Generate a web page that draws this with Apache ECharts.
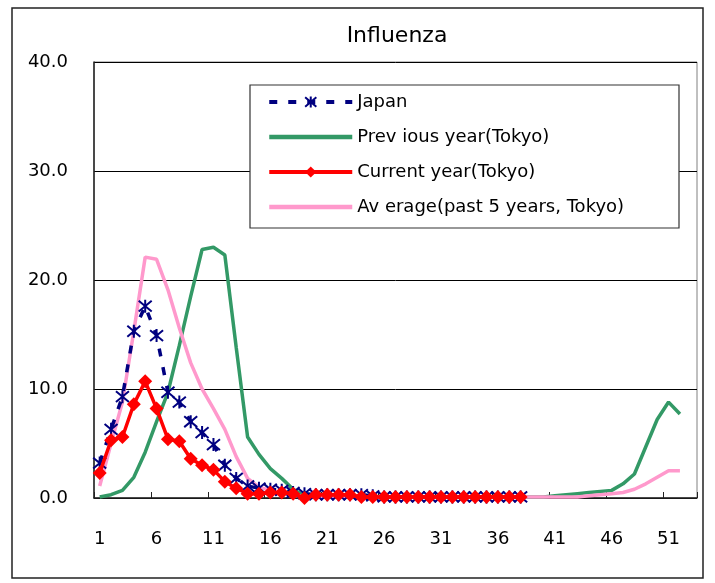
<!DOCTYPE html>
<html>
<head>
<meta charset="utf-8">
<script src="https://cdn.jsdelivr.net/npm/echarts@6/dist/echarts.min.js"></script>
<style>
html,body{margin:0;padding:0;background:#fff;}
#chart{width:715px;height:583px;}
</style>
</head>
<body>
<div id="chart"></div>
<script>
var weeks = [];
for (var w = 1; w <= 53; w++) weeks.push(String(w));

var titleText = 'Influenza';
var seriesNames = ['Japan', 'Prev ious year(Tokyo)', 'Current year(Tokyo)', 'Av erage(past 5 years, Tokyo)'];
var yTicks = [0, 10, 20, 30, 40];

var japan = [3.2, 6.3, 9.3, 15.3, 17.6, 14.9, 9.7, 8.8, 7.0, 6.0,
  4.9, 3.0, 1.8, 1.1, 0.9, 0.8, 0.7, 0.5, 0.4, 0.3,
  0.3, 0.3, 0.3, 0.3, 0.2, 0.1, 0.1, 0.1, 0.1, 0.1,
  0.1, 0.1, 0.1, 0.1, 0.1, 0.1, 0.1, 0.1];

var previousYear = [0.1, 0.3, 0.7, 1.9, 4.2, 7.0, 9.7, 14.0, 18.5, 22.8,
  23.0, 22.3, 13.8, 5.6, 4.0, 2.7, 1.8, 0.8, 0.2, 0.1,
  0.1, 0.1, 0.1, 0.1, 0.1, 0.1, 0.1, 0.1, 0.1, 0.1,
  0.1, 0.1, 0.1, 0.1, 0.1, 0.1, 0.1, 0.1, 0.1, 0.1,
  0.2, 0.3, 0.4, 0.5, 0.6, 0.7, 1.3, 2.2, 4.7, 7.2,
  8.8, 7.7];

var currentYear = [2.3, 5.3, 5.6, 8.6, 10.7, 8.2, 5.4, 5.2, 3.6, 3.0,
  2.6, 1.5, 0.9, 0.4, 0.4, 0.5, 0.5, 0.4, 0.0, 0.3,
  0.3, 0.3, 0.3, 0.1, 0.1, 0.1, 0.1, 0.1, 0.1, 0.1,
  0.1, 0.1, 0.1, 0.1, 0.1, 0.1, 0.1, 0.1];

var average5 = [1.1, 5.0, 8.8, 15.3, 22.1, 21.9, 19.1, 15.6, 12.4, 10.0,
  8.2, 6.3, 3.8, 1.8, 1.0, 0.7, 0.5, 0.3, 0.1, 0.1,
  0.1, 0.1, 0.1, 0.1, 0.1, 0.1, 0.1, 0.1, 0.1, 0.1,
  0.1, 0.1, 0.1, 0.1, 0.1, 0.1, 0.1, 0.1, 0.1, 0.1,
  0.1, 0.1, 0.1, 0.2, 0.3, 0.4, 0.5, 0.8, 1.3, 1.9,
  2.5, 2.5];

var FONT = 'DejaVu Sans';
var chart = echarts.init(document.getElementById('chart'), null, {renderer: 'canvas'});
var starPath = 'path://M0,0 L10,10 M10,0 L0,10 M5,-1 L5,11';

chart.setOption({
  backgroundColor: '#ffffff',
  animation: false,
  title: {
    text: titleText,
    left: 392,
    top: 20,
    textAlign: 'center',
    textStyle: {fontFamily: FONT, fontSize: 22, fontWeight: 'normal', color: '#000'}
  },
  graphic: [
    {type: 'rect', z: 0, shape: {x: 12, y: 8, width: 691, height: 570},
     style: {fill: 'none', stroke: '#222', lineWidth: 1.5}},
    {type: 'rect', z: 50, shape: {x: 250, y: 85, width: 429, height: 143},
     style: {fill: '#fff', stroke: '#333', lineWidth: 1.2}}
  ],
  legend: {
    z: 60,
    left: 267,
    top: 92,
    orient: 'vertical',
    padding: 0,
    itemWidth: 83,
    itemHeight: 14,
    itemGap: 15,
    textStyle: {fontFamily: FONT, fontSize: 18, color: '#000', lineHeight: 20},
    data: [
      {name: seriesNames[0], lineStyle: {width: 4}},
      {name: seriesNames[1], itemStyle: {opacity: 0}, lineStyle: {width: 4.5}},
      {name: seriesNames[2], lineStyle: {width: 4}},
      {name: seriesNames[3], itemStyle: {opacity: 0}, lineStyle: {width: 4.5}}
    ]
  },
  grid: {left: 94, right: 18, top: 62, bottom: 85, show: true, borderColor: '#808080', borderWidth: 1},
  xAxis: {
    type: 'category',
    data: weeks,
    boundaryGap: true,
    axisLine: {lineStyle: {color: '#222', width: 1.5}},
    axisTick: {show: true, inside: true, length: 6, interval: 4, lineStyle: {color: '#222'}},
    axisLabel: {interval: 4, margin: 32, fontFamily: FONT, fontSize: 18, color: '#000'},
    splitLine: {show: false}
  },
  yAxis: {
    type: 'value',
    min: yTicks[0],
    max: yTicks[yTicks.length - 1],
    interval: 10,
    axisLine: {show: true, lineStyle: {color: '#222', width: 1.5}},
    axisTick: {show: false},
    axisLabel: {margin: 26, fontFamily: FONT, fontSize: 18, color: '#000',
      formatter: function (v) { return v.toFixed(1); }},
    splitLine: {show: true, lineStyle: {color: '#000', width: 1}}
  },
  series: [
    {
      name: seriesNames[0], type: 'line', data: japan, z: 5,
      symbol: starPath, symbolSize: 13, showAllSymbol: true,
      lineStyle: {color: '#000080', width: 3.5, type: [8, 11]},
      itemStyle: {color: 'none', borderColor: '#000080', borderWidth: 2}
    },
    {
      name: seriesNames[1], type: 'line', data: previousYear, z: 3,
      symbol: 'none', showSymbol: false,
      lineStyle: {color: '#339966', width: 3.5},
      itemStyle: {color: '#339966'}
    },
    {
      name: seriesNames[2], type: 'line', data: currentYear, z: 6,
      symbol: 'diamond', symbolSize: 14, showAllSymbol: true,
      lineStyle: {color: '#ff0000', width: 3.5},
      itemStyle: {color: '#ff0000'}
    },
    {
      name: seriesNames[3], type: 'line', data: average5, z: 4,
      symbol: 'none', showSymbol: false,
      lineStyle: {color: '#ff99cc', width: 3.5},
      itemStyle: {color: '#ff99cc'}
    }
  ]
});
</script>
</body>
</html>
